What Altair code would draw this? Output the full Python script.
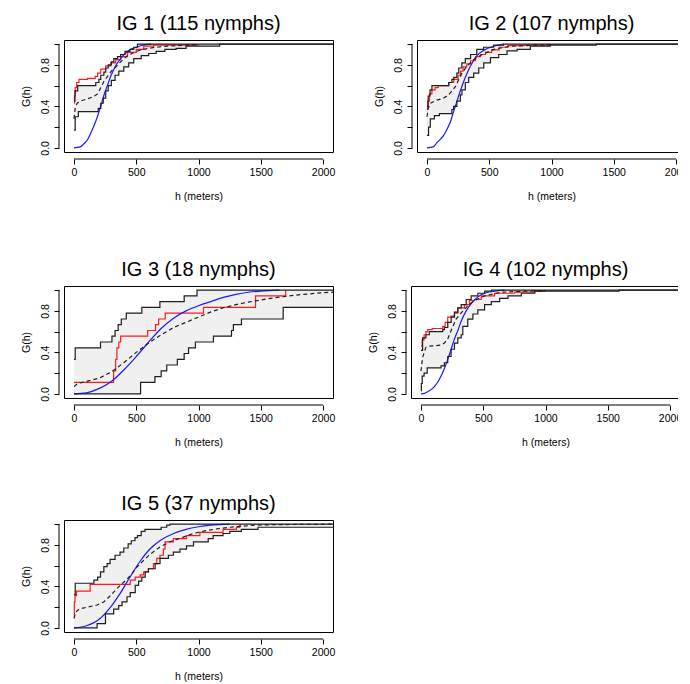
import altair as alt
import pandas as pd

FONT = "Liberation Sans"
TITLES = ["IG 1 (115 nymphs)", "IG 2 (107 nymphs)", "IG 3 (18 nymphs)",
          "IG 4 (102 nymphs)", "IG 5 (37 nymphs)"]
X_TICKS = [0, 500, 1000, 1500, 2000]
Y_TICKS = [0.0, 0.2, 0.4, 0.6, 0.8, 1.0]
X_TITLE = "h (meters)"
Y_TITLE = "G(h)"

# ---------------- IG 1 ----------------
IG1_HI_H = [0, 8, 30, 175, 200, 215, 240, 255, 275, 300, 320, 350, 375, 410, 450, 480, 510, 2080]
IG1_HI_G = [0.45, 0.55, 0.60, 0.63, 0.66, 0.70, 0.73, 0.77, 0.80, 0.83, 0.86, 0.88, 0.90, 0.93, 0.95, 0.97, 1.0, 1.0]
IG1_LO_H = [0, 10, 35, 195, 215, 235, 255, 275, 300, 330, 360, 400, 440, 480, 540, 600, 660, 730, 820, 900, 1170, 2080]
IG1_LO_G = [0.17, 0.30, 0.35, 0.38, 0.43, 0.48, 0.55, 0.60, 0.65, 0.70, 0.74, 0.78, 0.82, 0.86, 0.89, 0.91, 0.93, 0.95, 0.96, 0.98, 1.0, 1.0]
IG1_OBS_H = [0, 4, 10, 22, 40, 110, 170, 190, 215, 255, 295, 335, 375, 430, 500, 560, 640, 1000]
IG1_OBS_G = [0.43, 0.50, 0.58, 0.63, 0.66, 0.67, 0.69, 0.72, 0.76, 0.79, 0.82, 0.85, 0.88, 0.92, 0.95, 0.98, 0.99, 0.99]
IG1_MEAN_H = [0, 10, 25, 50, 100, 150, 190, 215, 240, 270, 300, 335, 375, 430, 500, 560, 650, 750, 900, 1000]
IG1_MEAN_G = [0.28, 0.38, 0.43, 0.45, 0.47, 0.49, 0.52, 0.58, 0.64, 0.69, 0.74, 0.78, 0.83, 0.89, 0.93, 0.95, 0.97, 0.98, 0.99, 0.995]
IG1_THEO_H = [0, 50, 80, 110, 134, 160, 188, 215, 241, 268, 295, 322, 349, 375, 402, 430, 456, 500, 536, 580, 620]
IG1_THEO_G = [0, 0.01, 0.04, 0.08, 0.14, 0.21, 0.30, 0.40, 0.51, 0.60, 0.69, 0.76, 0.82, 0.86, 0.90, 0.93, 0.95, 0.97, 0.985, 0.995, 1.0]

# ---------------- IG 2 ----------------
IG2_HI_H = [0, 10, 25, 40, 175, 200, 215, 240, 255, 280, 308, 350, 400, 455, 535, 615, 2080]
IG2_HI_G = [0.40, 0.50, 0.56, 0.60, 0.63, 0.66, 0.68, 0.72, 0.77, 0.82, 0.86, 0.90, 0.95, 0.97, 0.99, 1.0, 1.0]
IG2_LO_H = [0, 13, 27, 60, 100, 200, 214, 240, 268, 281, 308, 335, 375, 416, 456, 510, 576, 643, 724, 830, 990, 1360, 2080]
IG2_LO_G = [0.12, 0.20, 0.28, 0.31, 0.33, 0.37, 0.40, 0.45, 0.51, 0.56, 0.63, 0.68, 0.72, 0.77, 0.82, 0.87, 0.90, 0.935, 0.95, 0.98, 0.99, 1.0, 1.0]
IG2_OBS_H = [0, 5, 20, 40, 65, 90, 175, 215, 250, 270, 290, 320, 350, 390, 430, 470, 520, 580, 650, 780, 1000]
IG2_OBS_G = [0.37, 0.45, 0.52, 0.56, 0.58, 0.60, 0.63, 0.66, 0.70, 0.74, 0.78, 0.81, 0.84, 0.88, 0.90, 0.92, 0.945, 0.97, 0.985, 0.99, 0.99]
IG2_MEAN_H = [0, 10, 27, 80, 134, 174, 201, 228, 255, 281, 322, 375, 442, 536, 670, 858, 1000]
IG2_MEAN_G = [0.30, 0.38, 0.43, 0.46, 0.48, 0.51, 0.55, 0.59, 0.66, 0.72, 0.79, 0.85, 0.90, 0.95, 0.98, 0.99, 0.995]
IG2_THEO_H = [0, 50, 80, 134, 161, 188, 214, 241, 268, 295, 322, 349, 402, 456, 536, 617]
IG2_THEO_G = [0, 0.01, 0.05, 0.12, 0.18, 0.25, 0.35, 0.45, 0.55, 0.64, 0.72, 0.79, 0.89, 0.94, 0.98, 1.0]

# ---------------- IG 3 ----------------
IG3_HI_H = [0, 10, 213, 305, 330, 355, 380, 420, 545, 690, 885, 988, 2080]
IG3_HI_G = [0.333, 0.444, 0.5, 0.556, 0.611, 0.667, 0.722, 0.778, 0.833, 0.889, 0.944, 1.0, 1.0]
IG3_LO_H = [0, 535, 650, 700, 745, 830, 885, 920, 975, 1120, 1265, 1280, 1345, 1680, 2080]
IG3_LO_G = [0, 0.111, 0.167, 0.222, 0.278, 0.333, 0.389, 0.444, 0.5, 0.556, 0.611, 0.667, 0.722, 0.833, 0.833]
IG3_OBS_H = [0, 318, 335, 345, 360, 375, 592, 655, 680, 733, 1040, 1458, 1700]
IG3_OBS_G = [0.111, 0.222, 0.333, 0.444, 0.5, 0.556, 0.611, 0.667, 0.722, 0.778, 0.833, 0.944, 1.0]
IG3_MEAN_H = [0, 30, 100, 200, 300, 400, 500, 600, 700, 800, 900, 1000, 1100, 1200, 1300, 1400, 1500, 1600, 1700, 1800, 1900, 2000, 2080]
IG3_MEAN_G = [0.07, 0.10, 0.12, 0.15, 0.21, 0.30, 0.40, 0.49, 0.57, 0.64, 0.69, 0.74, 0.79, 0.83, 0.86, 0.885, 0.905, 0.925, 0.94, 0.955, 0.965, 0.975, 0.98]
IG3_THEO_H = [0, 100, 200, 300, 400, 500, 600, 700, 800, 900, 1000, 1100, 1200, 1300, 1400, 1500, 1650]
IG3_THEO_G = [0, 0.01, 0.05, 0.12, 0.23, 0.36, 0.50, 0.63, 0.73, 0.80, 0.85, 0.89, 0.93, 0.96, 0.98, 0.99, 1.0]

# ---------------- IG 4 ----------------
IG4_HI_H = [0, 13, 40, 67, 175, 188, 215, 242, 269, 296, 323, 363, 403, 457, 511, 565, 2080]
IG4_HI_G = [0.42, 0.54, 0.57, 0.60, 0.62, 0.64, 0.69, 0.74, 0.78, 0.83, 0.86, 0.91, 0.945, 0.97, 0.99, 1.0, 1.0]
IG4_LO_H = [0, 3, 10, 25, 50, 161, 188, 215, 242, 269, 296, 323, 336, 376, 417, 457, 511, 565, 632, 699, 806, 914, 1590, 2080]
IG4_LO_G = [0.03, 0.10, 0.17, 0.20, 0.25, 0.27, 0.30, 0.36, 0.43, 0.49, 0.54, 0.57, 0.65, 0.72, 0.77, 0.81, 0.86, 0.89, 0.92, 0.945, 0.97, 0.99, 1.0, 1.0]
IG4_OBS_H = [0, 10, 25, 40, 54, 90, 175, 194, 215, 242, 269, 296, 349, 390, 430, 484, 591, 753, 914, 995]
IG4_OBS_G = [0.46, 0.52, 0.57, 0.60, 0.62, 0.63, 0.65, 0.69, 0.74, 0.75, 0.79, 0.83, 0.86, 0.90, 0.91, 0.945, 0.97, 0.98, 0.99, 0.99]
IG4_MEAN_H = [0, 13, 40, 67, 161, 188, 215, 242, 282, 323, 376, 430, 511, 645, 833, 1000]
IG4_MEAN_G = [0.22, 0.35, 0.45, 0.46, 0.47, 0.49, 0.53, 0.61, 0.72, 0.78, 0.85, 0.90, 0.945, 0.98, 0.99, 0.995]
IG4_THEO_H = [0, 30, 54, 108, 161, 188, 215, 242, 269, 296, 323, 363, 403, 457, 511, 591, 672]
IG4_THEO_G = [0, 0.005, 0.02, 0.07, 0.17, 0.245, 0.33, 0.43, 0.53, 0.61, 0.70, 0.80, 0.87, 0.935, 0.97, 0.99, 1.0]

# ---------------- IG 5 ----------------
IG5_HI_H = [0, 10, 160, 190, 213, 240, 266, 290, 330, 370, 400, 435, 460, 490, 510, 540, 570, 700, 745, 770, 2080]
IG5_HI_G = [0.32, 0.43, 0.46, 0.49, 0.54, 0.59, 0.62, 0.66, 0.70, 0.73, 0.77, 0.81, 0.84, 0.87, 0.89, 0.93, 0.95, 0.97, 0.99, 1.0, 1.0]
IG5_LO_H = [0, 186, 253, 319, 359, 386, 426, 452, 492, 519, 545, 572, 598, 652, 691, 758, 798, 851, 904, 960, 1078, 1118, 1197, 1251, 1344, 1478, 2080]
IG5_LO_G = [0, 0.04, 0.135, 0.18, 0.215, 0.25, 0.30, 0.34, 0.41, 0.45, 0.49, 0.54, 0.57, 0.62, 0.67, 0.70, 0.73, 0.76, 0.79, 0.83, 0.86, 0.89, 0.91, 0.93, 0.95, 0.97, 0.97]
IG5_OBS_H = [0, 3, 8, 20, 130, 452, 492, 532, 560, 598, 638, 665, 691, 718, 731, 798, 904, 1011, 1197, 1304, 1331, 1338]
IG5_OBS_G = [0.12, 0.25, 0.31, 0.355, 0.42, 0.46, 0.49, 0.51, 0.54, 0.57, 0.62, 0.67, 0.70, 0.76, 0.83, 0.86, 0.89, 0.92, 0.95, 0.97, 0.99, 1.0]
IG5_MEAN_H = [0, 13, 40, 106, 186, 239, 293, 346, 399, 452, 505, 559, 612, 691, 771, 878, 958, 1050, 1150, 1250, 1350, 1450, 1600, 2080]
IG5_MEAN_G = [0.09, 0.15, 0.18, 0.20, 0.22, 0.25, 0.31, 0.38, 0.44, 0.50, 0.585, 0.65, 0.71, 0.78, 0.83, 0.875, 0.91, 0.935, 0.955, 0.97, 0.98, 0.99, 0.995, 1.0]
IG5_THEO_H = [0, 100, 200, 300, 375, 450, 530, 610, 690, 800, 900, 1000, 1100, 1250]
IG5_THEO_G = [0, 0.02, 0.08, 0.21, 0.34, 0.49, 0.64, 0.76, 0.84, 0.91, 0.95, 0.975, 0.99, 1.0]

PANELS = [
    (IG1_HI_H, IG1_HI_G, IG1_LO_H, IG1_LO_G, IG1_OBS_H, IG1_OBS_G, IG1_MEAN_H, IG1_MEAN_G, IG1_THEO_H, IG1_THEO_G),
    (IG2_HI_H, IG2_HI_G, IG2_LO_H, IG2_LO_G, IG2_OBS_H, IG2_OBS_G, IG2_MEAN_H, IG2_MEAN_G, IG2_THEO_H, IG2_THEO_G),
    (IG3_HI_H, IG3_HI_G, IG3_LO_H, IG3_LO_G, IG3_OBS_H, IG3_OBS_G, IG3_MEAN_H, IG3_MEAN_G, IG3_THEO_H, IG3_THEO_G),
    (IG4_HI_H, IG4_HI_G, IG4_LO_H, IG4_LO_G, IG4_OBS_H, IG4_OBS_G, IG4_MEAN_H, IG4_MEAN_G, IG4_THEO_H, IG4_THEO_G),
    (IG5_HI_H, IG5_HI_G, IG5_LO_H, IG5_LO_G, IG5_OBS_H, IG5_OBS_G, IG5_MEAN_H, IG5_MEAN_G, IG5_THEO_H, IG5_THEO_G),
]

W, H = 269, 112
XSCALE = alt.Scale(domain=[-80, 2080], nice=False, zero=False)
YSCALE = alt.Scale(domain=[-0.04, 1.04], nice=False, zero=False)
INK = "#1e1e1e"

XAXIS = alt.Axis(values=X_TICKS, format="d", domain=False, grid=False,
                 ticks=True, tickSize=5, tickColor="black", tickWidth=1,
                 offset=7, labelFont=FONT, labelFontSize=10.5, labelColor="black",
                 labelPadding=3, labelFlush=False, labelOverlap=False,
                 title=X_TITLE, titleFont=FONT, titleFontSize=10.5,
                 titleFontWeight="normal", titleColor="black",
                 titleX=W / 2, titleY=37, titleAlign="center", titleBaseline="middle")
YAXIS = alt.Axis(values=Y_TICKS, format=".1f",
                 labelExpr="(datum.label == '0.0' || datum.label == '0.4' || datum.label == '0.8') ? datum.label : ''",
                 domain=False, grid=False, ticks=True, tickSize=5, tickColor="black",
                 tickWidth=1, offset=5, labelFont=FONT, labelFontSize=10.5,
                 labelColor="black", labelAngle=270, labelAlign="center",
                 labelBaseline="bottom", labelPadding=4, labelOverlap=False,
                 title=Y_TITLE, titleFont=FONT, titleFontSize=10.5,
                 titleFontWeight="normal", titleColor="black", titleAngle=270,
                 titleX=-33, titleY=H / 2, titleAlign="center", titleBaseline="middle")


def step_value(hs, gs, x):
    v = gs[0]
    for h, g in zip(hs, gs):
        if h <= x:
            v = g
        else:
            break
    return v


def make_panel(title, series):
    hi_h, hi_g, lo_h, lo_g, ob_h, ob_g, mn_h, mn_g, th_h, th_g = series
    xs = sorted(set(hi_h) | set(lo_h))
    env = pd.DataFrame({
        "h": xs,
        "hi": [step_value(hi_h, hi_g, x) for x in xs],
        "lo": [step_value(lo_h, lo_g, x) for x in xs],
    })

    band = alt.Chart(env).mark_area(interpolate="step-after", color="#f0f0f0").encode(
        x=alt.X("h:Q", scale=XSCALE, axis=XAXIS),
        y=alt.Y("hi:Q", scale=YSCALE, axis=YAXIS),
        y2="lo:Q",
    )

    def line(hs, gs, color, interp, dash=None):
        df = pd.DataFrame({"h": hs, "g": gs})
        kw = dict(interpolate=interp, color=color, strokeWidth=1.2)
        if dash:
            kw["strokeDash"] = dash
        return alt.Chart(df).mark_line(**kw).encode(
            x=alt.X("h:Q", scale=XSCALE, axis=XAXIS),
            y=alt.Y("g:Q", scale=YSCALE, axis=YAXIS),
        )

    obs = line(ob_h, ob_g, "#ff1a1a", "step-after")
    theo = line(th_h, th_g, "#1a1aff", "monotone")
    mean = line(mn_h, mn_g, INK, "linear", dash=[4, 3])
    hi = line(hi_h, hi_g, INK, "step-after")
    lo = line(lo_h, lo_g, INK, "step-after")

    xline = alt.Chart(pd.DataFrame({"a": [X_TICKS[0]], "b": [X_TICKS[-1]]})).mark_rule(
        color="black", strokeWidth=1).encode(
        x=alt.X("a:Q", scale=XSCALE, axis=XAXIS), x2="b:Q", y=alt.value(H + 7))
    yline = alt.Chart(pd.DataFrame({"a": [Y_TICKS[0]], "b": [Y_TICKS[-1]]})).mark_rule(
        color="black", strokeWidth=1).encode(
        y=alt.Y("a:Q", scale=YSCALE, axis=YAXIS), y2="b:Q", x=alt.value(-5))

    return alt.layer(band, obs, theo, mean, hi, lo, xline, yline).properties(
        width=W, height=H,
        title=alt.TitleParams(text=title, font=FONT, fontSize=20, fontWeight="normal",
                              color="black", anchor="middle", frame="group",
                              baseline="alphabetic", offset=-9.5),
    )


p = [make_panel(t, s) for t, s in zip(TITLES, PANELS)]

row1 = alt.hconcat(p[0], p[1], spacing=37)
row2 = alt.hconcat(p[2], p[3], spacing=31)
row3 = alt.hconcat(p[4])
upper = alt.vconcat(row1, row2, spacing=57)
chart = alt.vconcat(upper, row3, spacing=45).properties(
    padding={"left": 12, "top": 5, "right": -11, "bottom": 0},
    background="white",
).configure_view(stroke="black", strokeWidth=1)

chart.save("out.html", embed_options={"renderer": "svg", "actions": False})
